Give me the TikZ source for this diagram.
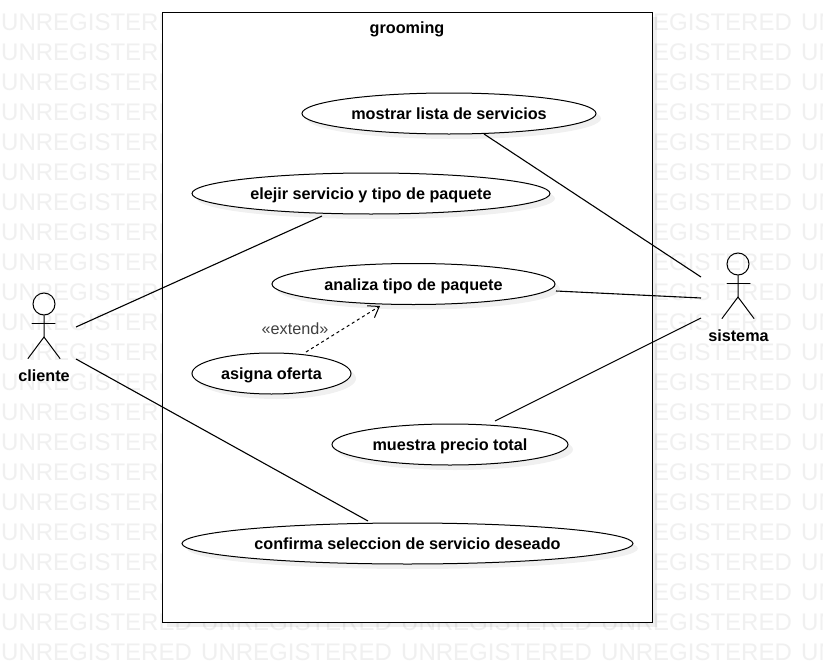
\documentclass[tikz,border=0pt]{standalone}
\usepackage{fontspec}
\usepackage{tikz}
\usetikzlibrary{shapes.geometric,shadows,arrows.meta}
\setmainfont{Liberation Sans}

\tikzset{
    boxshadow/.style={general shadow={shadow xshift=5pt, shadow yshift=-5pt, fill=black, fill opacity=0.06, draw=none}},
    usecase/.style={ellipse, draw=black, fill=white, inner sep=0pt, line width=1pt, boxshadow, text height=12pt, text depth=0pt, font=\fontsize{16.2}{18}\selectfont\bfseries},
    actorlabel/.style={text height=12pt, text depth=0pt, font=\fontsize{16.2}{18}\selectfont\bfseries},
    actorline/.style={line width=1pt, line cap=round},
    assoc/.style={line width=1.1pt},
    watermark/.style={text=black!6, font=\fontsize{24}{26}\selectfont, anchor=west, inner sep=0pt}
}

\begin{document}
\begin{tikzpicture}[x=1pt, y=-1pt]
    \useasboundingbox (0,0) rectangle (823,672);
    \fill[white] (0,0) rectangle (823,672);

    % Watermark rows
    \begin{scope}
        \clip (0,0) rectangle (823,672);
        \foreach \row in {0,...,21} {
            \foreach \col in {0,...,4} {
                \node[watermark] (wm-\row-\col) at (1+200*\col, 22+30*\row) {UNREGISTERED};
            }
        }
    \end{scope}

    % System boundary
    \node[draw=black, fill=white, line width=1pt, boxshadow, minimum width=490pt, minimum height=610pt, inner sep=0pt] (frame) at (407,317) {};
    \node[actorlabel] (title) at (407,27.5) {grooming};

    % Use cases
    \node[usecase, minimum width=294pt, minimum height=41pt] (mostrar) at (449,113.5) {mostrar lista de servicios};
    \node[usecase, minimum width=358pt, minimum height=41pt] (elejir) at (371,193.5) {elejir servicio y tipo de paquete};
    \node[usecase, minimum width=283pt, minimum height=41pt] (analiza) at (413.5,284) {analiza tipo de paquete};
    \node[usecase, minimum width=159pt, minimum height=41pt] (asigna) at (271.5,373.5) {asigna oferta};
    \node[usecase, minimum width=236pt, minimum height=41pt] (muestra) at (450,444.5) {muestra precio total};
    \node[usecase, minimum width=451pt, minimum height=41pt] (confirma) at (407.5,543.5) {confirma seleccion de servicio deseado};

    % Actor cliente
    \node[circle, draw=black, line width=1pt, minimum size=22pt, inner sep=0pt] (clientehead) at (44,304) {};
    \draw[actorline] (clientehead.south) -- (44,337) -- (28,358.5);
    \draw[actorline] (44,337) -- (60,358.5);
    \draw[actorline] (32,323) -- (55,323);
    \node[actorlabel] (cliente) at (44,375) {cliente};

    % Actor sistema
    \node[circle, draw=black, line width=1pt, minimum size=22pt, inner sep=0pt] (sistemahead) at (738,264) {};
    \draw[actorline] (sistemahead.south) -- (738,297) -- (722,318.5);
    \draw[actorline] (738,297) -- (754,318.5);
    \draw[actorline] (727,283) -- (750,283);
    \node[actorlabel] (sistema) at (738.5,335) {sistema};

    % Free ends of the associations
    \coordinate (c1) at (76,327);
    \coordinate (c2) at (76,359);
    \coordinate (s1) at (701,277);
    \coordinate (s2) at (701,298);
    \coordinate (s3) at (701,318);
    \coordinate (elejirend) at (322,216);
    \coordinate (confirmaend) at (368,521);
    \coordinate (mostrarend) at (484,134);
    \coordinate (analizaend) at (556,291);
    \coordinate (muestraend) at (495,421);
    \coordinate (asignaend) at (306,352);
    \coordinate (extendend) at (380,306);

    % Associations
    \draw[assoc] (c1) -- (elejirend);
    \draw[assoc] (c2) -- (confirmaend);
    \draw[assoc] (mostrarend) -- (s1);
    \draw[assoc] (analizaend) -- (s2);
    \draw[assoc] (muestraend) -- (s3);

    % Extend
    \draw[line width=1pt, dashed, -{Straight Barb[length=10pt,width=14pt]}] (asignaend) -- (extendend);
    \node[text=black!75, font=\fontsize{16.2}{18}\selectfont, inner sep=0pt] (extendlabel) at (295,329) {«extend»};
\end{tikzpicture}
\end{document}
